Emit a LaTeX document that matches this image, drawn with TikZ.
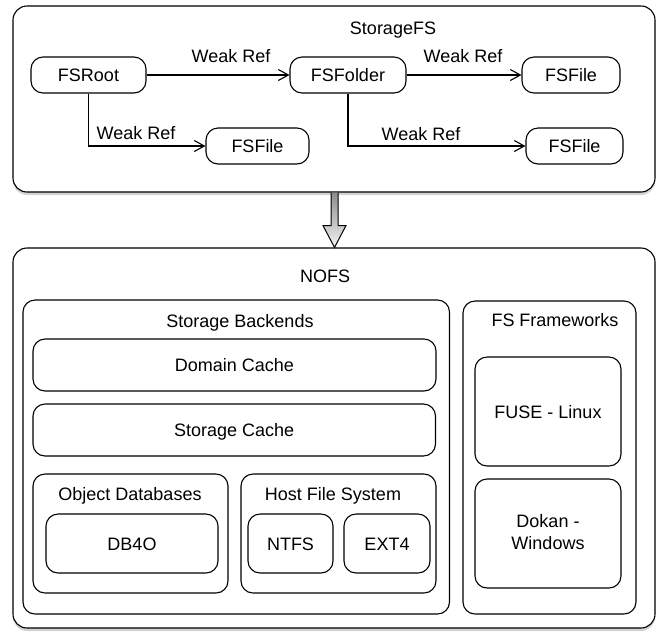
\documentclass[tikz,border=0pt]{standalone}
\usepackage{fontspec}
\setmainfont{Liberation Sans}
\usetikzlibrary{arrows.meta,shadows,calc}
\begin{document}
\begin{tikzpicture}[x=1pt,y=-1pt,
  box/.style={draw, line width=1.1pt, rounded corners=12pt, inner sep=0pt, fill=white},
  outer/.style={box, rounded corners=14pt, drop shadow={shadow xshift=0pt, shadow yshift=-3pt, opacity=0.35}},
  txt/.style={inner sep=0pt, text height=13pt, text depth=0pt, font=\fontsize{18}{22}\selectfont},
  ref/.style={line width=1.1pt, -{Straight Barb[length=10pt,width=11pt,line width=1.1pt]}},
]
\useasboundingbox (0,0) rectangle (658,633);

% StorageFS
\node[outer, minimum width=642pt, minimum height=186pt] (sfs) at (334,99) {};
\node[txt] (sfslabel) at (393,28) {StorageFS};
\node[box, txt, minimum width=115pt, minimum height=36pt] (root) at (88.5,75) {FSRoot};
\node[box, txt, minimum width=116pt, minimum height=36pt] (folder) at (348,75) {FSFolder};
\node[box, txt, minimum width=98pt, minimum height=36pt] (file1) at (571,75) {FSFile};
\node[box, txt, minimum width=103pt, minimum height=36pt] (file2) at (257.5,146) {FSFile};
\node[box, txt, minimum width=97pt, minimum height=36pt] (file3) at (574.5,146) {FSFile};

\draw[ref] (root) -- (folder);
\draw[ref] (folder) -- (file1);
\draw[ref] (root.south) |- (file2);
\draw[ref] (folder.south) |- (file3);
\node[txt] (l1) at (231,56) {Weak Ref};
\node[txt] (l2) at (463,56) {Weak Ref};
\node[txt] (l3) at (136,133) {Weak Ref};
\node[txt] (l4) at (421,134) {Weak Ref};

% NOFS
\node[outer, minimum width=642pt, minimum height=380pt] (nofs) at (334,438) {};
\node[txt] (nofslabel) at (325,276) {NOFS};

% hollow arrow
\draw[line width=1pt, top color=black!45, bottom color=black!5]
  ($(sfs.south)+(-3,0)$) -- ++(0,33) -- ++(-8,0) -- ($(nofs.north)+(0.5,0)$)
  -- ($(sfs.south)+(12,33)$) -- ++(-8,0) -- ($(sfs.south)+(4,0)$);

% Storage Backends
\node[box, minimum width=426.5pt, minimum height=314pt] (sb) at (236.25,457) {};
\node[txt] (sblabel) at (240,321) {Storage Backends};
\node[box, txt, minimum width=403pt, minimum height=52pt] (dc) at (234.5,365) {Domain Cache};
\node[box, txt, minimum width=402.5pt, minimum height=52pt] (sc) at (234.25,430) {Storage Cache};
\node[box, minimum width=195pt, minimum height=119pt] (odb) at (130.5,533.5) {};
\node[txt] (odblabel) at (130,494) {Object Databases};
\node[box, txt, minimum width=172pt, minimum height=59pt] (db4o) at (132,543.5) {DB4O};
\node[box, minimum width=195pt, minimum height=119pt] (hfs) at (338.5,533.5) {};
\node[txt] (hfslabel) at (333,494) {Host File System};
\node[box, txt, minimum width=85pt, minimum height=59pt] (ntfs) at (290.5,543.5) {NTFS};
\node[box, txt, minimum width=86pt, minimum height=59pt] (ext4) at (387,543.5) {EXT4};

% FS Frameworks
\node[box, minimum width=173pt, minimum height=313pt] (fsf) at (549.5,457.5) {};
\node[txt] (fsflabel) at (555,320) {FS Frameworks};
\node[box, txt, minimum width=146pt, minimum height=109pt] (fuse) at (548,411.5) {FUSE - Linux};
\node[box, minimum width=146pt, minimum height=109pt] (dokan) at (548,533.5) {};
\node[inner sep=0pt, align=center, font=\fontsize{18}{22}\selectfont] (dokantext) at (548,532) {Dokan -\\Windows};
\end{tikzpicture}
\end{document}
